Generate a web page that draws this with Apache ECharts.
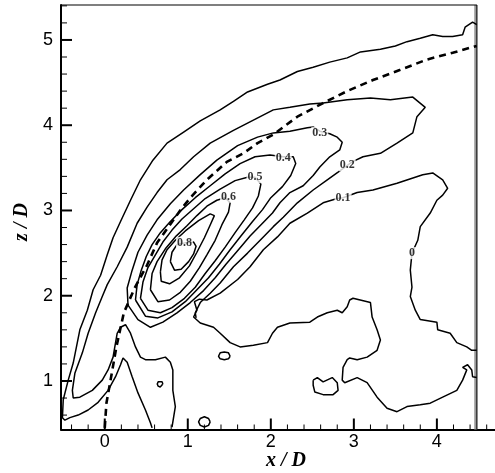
<!DOCTYPE html>
<html><head><meta charset="utf-8">
<script src="https://cdn.jsdelivr.net/npm/echarts@6/dist/echarts.min.js"></script>
<style>html,body{margin:0;padding:0;background:#fff}#c{width:495px;height:473px}</style>
</head><body><div id="c"></div>
<script>
// ---- axes ----
const xMin = -0.527, xMax = 4.70, yMin = 0.431, yMax = 5.41;
const xMajorTicks = [0, 1, 2, 3, 4];
const xMinorTicks = [-0.4, -0.2, 0.2, 0.4, 0.6, 0.8, 1.2, 1.4, 1.6, 1.8, 2.2, 2.4, 2.6, 2.8, 3.2, 3.4, 3.6, 3.8, 4.2, 4.4, 4.6];
const yMajorTicks = [1, 2, 3, 4, 5];
const yMinorTicks = [0.6, 0.8, 1.2, 1.4, 1.6, 1.8, 2.2, 2.4, 2.6, 2.8, 3.2, 3.4, 3.6, 3.8, 4.2, 4.4, 4.6, 4.8, 5.2, 5.4];

// ---- contour lines (x/D, z/D) ----
const c01outer = [[0.57,0.45],[0.55,0.51],[0.49,0.66],[0.40,0.86],[0.33,1.05],[0.27,1.22],[0.22,1.27],[0.19,1.19],[0.13,1.05],[0.04,0.89],[-0.08,0.75],[-0.20,0.66],[-0.32,0.60],[-0.42,0.57],[-0.48,0.54],[-0.51,0.57],[-0.50,0.78],[-0.44,1.01],[-0.38,1.21],[-0.30,1.60],[-0.21,1.83],[-0.14,2.07],[-0.05,2.24],[0.03,2.48],[0.10,2.68],[0.19,2.87],[0.31,3.12],[0.43,3.36],[0.58,3.59],[0.75,3.79],[0.95,3.92],[1.15,4.05],[1.39,4.18],[1.55,4.28],[1.72,4.39],[1.96,4.48],[2.11,4.53],[2.32,4.63],[2.51,4.68],[2.71,4.74],[2.92,4.79],[3.08,4.86],[3.32,4.89],[3.50,4.93],[3.64,4.98],[3.80,5.02],[3.95,5.06],[4.07,5.04],[4.19,5.04],[4.31,5.06],[4.34,5.15],[4.43,5.21],[4.48,5.18]];
const c01inner = [[4.48,1.36],[4.42,1.36],[4.36,1.40],[4.24,1.45],[4.16,1.56],[4.01,1.60],[4.00,1.69],[3.80,1.72],[3.74,1.83],[3.68,1.99],[3.70,2.10],[3.68,2.30],[3.70,2.50],[3.77,2.65],[3.80,2.81],[3.92,2.97],[4.00,3.12],[4.07,3.18],[4.13,3.26],[4.07,3.36],[3.95,3.44],[3.83,3.42],[3.52,3.32],[3.23,3.24],[3.04,3.21],[2.87,3.15],[2.80,3.14],[2.63,3.09],[2.44,2.97],[2.23,2.85],[2.08,2.69],[1.91,2.54],[1.75,2.34],[1.60,2.19],[1.39,2.03],[1.23,1.95],[1.14,1.96],[1.08,1.93],[1.11,1.83],[1.07,1.75],[1.15,1.68],[1.31,1.63],[1.39,1.56],[1.51,1.45],[1.63,1.40],[1.79,1.42],[1.96,1.45],[2.02,1.56],[2.08,1.63],[2.23,1.68],[2.47,1.69],[2.56,1.75],[2.68,1.80],[2.80,1.83],[2.86,1.80],[2.92,1.87],[2.95,1.95],[2.99,1.97],[3.20,1.92],[3.22,1.75],[3.28,1.60],[3.32,1.48],[3.28,1.36],[3.16,1.28],[3.04,1.25],[2.95,1.27],[2.92,1.25],[2.87,1.16],[2.86,1.01],[2.89,0.98],[3.04,1.04],[3.16,0.98],[3.28,0.81],[3.40,0.68],[3.52,0.64],[3.64,0.70],[3.80,0.72],[3.92,0.74],[4.07,0.81],[4.24,0.89],[4.31,1.01],[4.36,1.13],[4.31,1.16],[4.37,1.19],[4.42,1.13],[4.43,1.05],[4.48,1.04]];
const c02 = [[0.81,0.46],[0.85,0.70],[0.82,0.89],[0.82,1.13],[0.79,1.22],[0.73,1.28],[0.61,1.25],[0.49,1.25],[0.43,1.28],[0.37,1.40],[0.31,1.56],[0.25,1.66],[0.19,1.63],[0.15,1.56],[0.13,1.45],[0.10,1.28],[0.04,1.13],[-0.03,1.01],[-0.15,0.89],[-0.30,0.81],[-0.38,0.80],[-0.39,0.89],[-0.36,1.09],[-0.27,1.33],[-0.20,1.56],[-0.11,1.80],[-0.03,1.99],[0.03,2.13],[0.15,2.34],[0.27,2.57],[0.39,2.85],[0.51,3.04],[0.63,3.21],[0.75,3.36],[0.91,3.48],[1.07,3.63],[1.27,3.79],[1.55,3.94],[1.79,4.06],[2.03,4.18],[2.23,4.21],[2.47,4.25],[2.63,4.26],[2.92,4.30],[3.20,4.32],[3.44,4.30],[3.71,4.33],[3.86,4.21],[3.76,4.10],[3.71,3.91],[3.52,3.79],[3.32,3.67],[3.11,3.63],[2.98,3.57],[2.81,3.45],[2.68,3.36],[2.51,3.24],[2.32,3.09],[2.15,2.92],[2.03,2.81],[1.91,2.69],[1.72,2.50],[1.55,2.34],[1.39,2.15],[1.27,2.03],[1.15,1.92],[1.09,1.80],[1.10,1.74]];
const c03 = [[0.28,1.89],[0.27,2.09],[0.33,2.30],[0.40,2.51],[0.51,2.71],[0.63,2.89],[0.79,3.08],[0.95,3.24],[1.15,3.42],[1.35,3.59],[1.60,3.76],[1.84,3.86],[2.03,3.91],[2.23,3.93],[2.44,3.97],[2.51,3.98],[2.59,3.93],[2.71,3.90],[2.80,3.86],[2.86,3.80],[2.83,3.71],[2.71,3.63],[2.59,3.51],[2.51,3.41],[2.39,3.29],[2.23,3.21],[2.11,3.09],[2.02,2.97],[1.90,2.85],[1.75,2.70],[1.61,2.54],[1.46,2.37],[1.33,2.21],[1.19,2.06],[1.03,1.92],[0.87,1.80],[0.70,1.69],[0.55,1.63],[0.40,1.72],[0.28,1.89]];
const c04 = [[0.37,1.95],[0.39,2.13],[0.44,2.30],[0.50,2.46],[0.57,2.60],[0.67,2.74],[0.79,2.87],[0.93,3.01],[1.09,3.15],[1.27,3.29],[1.45,3.43],[1.63,3.55],[1.81,3.63],[1.99,3.65],[2.15,3.63],[2.27,3.63],[2.30,3.55],[2.24,3.41],[2.14,3.28],[2.00,3.15],[1.90,3.01],[1.78,2.87],[1.64,2.70],[1.51,2.54],[1.38,2.37],[1.25,2.21],[1.11,2.07],[0.97,1.93],[0.81,1.81],[0.64,1.74],[0.49,1.76],[0.37,1.95]];
const c05 = [[0.43,1.97],[0.46,2.16],[0.52,2.33],[0.61,2.48],[0.70,2.63],[0.81,2.77],[0.93,2.90],[1.07,3.02],[1.21,3.14],[1.39,3.25],[1.57,3.35],[1.72,3.39],[1.81,3.39],[1.88,3.31],[1.85,3.17],[1.78,3.03],[1.68,2.89],[1.57,2.74],[1.45,2.57],[1.33,2.41],[1.21,2.26],[1.09,2.10],[0.96,1.97],[0.81,1.86],[0.67,1.80],[0.52,1.83],[0.43,1.97]];
const c06 = [[0.55,2.07],[0.57,2.26],[0.63,2.40],[0.73,2.55],[0.85,2.69],[0.99,2.82],[1.11,2.94],[1.23,3.05],[1.35,3.12],[1.45,3.15],[1.51,3.09],[1.49,2.98],[1.41,2.83],[1.33,2.65],[1.23,2.48],[1.14,2.33],[1.03,2.17],[0.91,2.04],[0.78,1.95],[0.64,1.93],[0.55,2.07]];
const c07 = [[0.67,2.28],[0.69,2.42],[0.75,2.54],[0.85,2.65],[0.97,2.76],[1.13,2.88],[1.27,2.96],[1.32,2.94],[1.27,2.83],[1.20,2.68],[1.11,2.51],[1.02,2.35],[0.90,2.21],[0.78,2.14],[0.68,2.17],[0.67,2.28]];
const c08 = [[0.79,2.40],[0.81,2.51],[0.87,2.60],[0.97,2.62],[1.07,2.63],[1.10,2.58],[1.07,2.49],[1.01,2.40],[0.92,2.31],[0.84,2.30],[0.79,2.40]];
const islandA = [[0.70,0.965],[0.69,0.99],[0.668,1.0],[0.643,0.99],[0.632,0.965],[0.643,0.94],[0.668,0.93],[0.69,0.94],[0.70,0.965]];
const islandB = [[1.27,0.52],[1.25,0.56],[1.20,0.58],[1.15,0.56],[1.13,0.52],[1.15,0.48],[1.20,0.46],[1.25,0.48],[1.27,0.52]];
const islandC = [[1.51,1.29],[1.49,1.33],[1.44,1.34],[1.39,1.33],[1.37,1.29],[1.39,1.26],[1.44,1.25],[1.49,1.26],[1.51,1.29]];
const islandD = [[2.51,1.01],[2.56,1.04],[2.63,0.99],[2.74,1.04],[2.80,0.98],[2.81,0.89],[2.75,0.84],[2.63,0.84],[2.53,0.87],[2.51,0.95],[2.51,1.01]];

// ---- jet trajectory (dashed) ----
const trajectory = [[0.00,0.45],[0.02,0.74],[0.07,1.01],[0.14,1.40],[0.23,1.80],[0.36,2.09],[0.51,2.36],[0.63,2.62],[0.82,2.88],[0.93,3.03],[1.06,3.18],[1.23,3.36],[1.47,3.57],[1.67,3.67],[1.84,3.79],[2.03,3.89],[2.32,4.10],[2.63,4.26],[2.92,4.40],[3.23,4.53],[3.56,4.65],[3.88,4.77],[4.19,4.85],[4.48,4.93]];

// ---- contour labels ----
const labelPos = [[2.87,3.15],[2.92,3.53],[2.59,3.91],[2.15,3.62],[1.81,3.39],[1.49,3.16],[0.96,2.62],[3.70,2.50]];
const labelText = ['0.1','0.2','0.3','0.4','0.5','0.6','0.8','0'];

// ---- frame ----
const frameTop = [[-0.527,5.41],[4.482,5.41]];
const rightEdge = [[4.482,5.41],[4.482,0.431]];
const rightBand = [[4.468,5.41],[4.468,0.431]];

const contours = [c01outer, c01inner, c02, c03, c04, c05, c06, c07, c08, islandA, islandB, islandC, islandD];

function lineSeries(data, style, extra) {
  return Object.assign({
    type: 'line', data: data, showSymbol: false, symbol: 'none', silent: true,
    xAxisIndex: 0, yAxisIndex: 0, lineStyle: style, animation: false
  }, extra || {});
}

// tick marks drawn through the axis scale
function tickSeries(values, dir, len, width) {
  return {
    type: 'custom', silent: true, animation: false, clip: false, z: 6,
    xAxisIndex: 0, yAxisIndex: 0,
    data: values.map(v => dir === 'x' ? [v, yMin] : [xMin, v]),
    encode: {x: 0, y: 1},
    renderItem: function (params, api) {
      const p = api.coord([api.value(0), api.value(1)]);
      const shape = dir === 'x'
        ? {x1: p[0], y1: p[1], x2: p[0], y2: p[1] - len}
        : {x1: p[0], y1: p[1], x2: p[0] + len, y2: p[1]};
      return {type: 'line', shape: shape, style: {stroke: '#000', lineWidth: width}};
    }
  };
}

const series = [];
contours.forEach(c => series.push(lineSeries(c, {color: '#000', width: 1.5}, {z: 3})));
series.push(lineSeries(trajectory, {color: '#000', width: 2.6, type: [7, 5]}, {z: 4}));
series.push(lineSeries(rightBand, {color: '#999', width: 3}, {z: 2, clip: false}));
series.push(lineSeries(rightEdge, {color: '#000', width: 1}, {z: 2, clip: false}));
series.push(lineSeries(frameTop, {color: '#000', width: 1.2}, {z: 2, clip: false}));
series.push(tickSeries(xMajorTicks, 'x', 11, 2));
series.push(tickSeries(xMinorTicks, 'x', 5, 1));
series.push(tickSeries(yMajorTicks, 'y', 11, 2));
series.push(tickSeries(yMinorTicks, 'y', 6, 1));
series.push({
  type: 'scatter', silent: true, animation: false, z: 10,
  data: labelPos.map((p, i) => [p[0], p[1], labelText[i]]),
  symbolSize: 2, itemStyle: {color: 'rgba(255,255,255,0)'},
  label: {
    show: true, position: 'inside', formatter: p => p.value[2],
    color: '#000', fontFamily: 'Liberation Serif', fontWeight: 'bold', fontSize: 12,
    backgroundColor: '#fff', padding: [0, 1]
  }
});

const option = {
  animation: false,
  backgroundColor: '#fff',
  grid: {left: 61, right: 0, top: 5, bottom: 43.5, containLabel: false, outerBoundsMode: 'none'},
  xAxis: {
    type: 'value', min: xMin, max: xMax, position: 'bottom', splitLine: {show: false},
    axisLine: {show: true, onZero: false, lineStyle: {color: '#000', width: 2}},
    axisTick: {show: false},
    axisLabel: {customValues: xMajorTicks, color: '#000', fontSize: 18, fontFamily: 'Liberation Sans', margin: 4}
  },
  yAxis: {
    type: 'value', min: yMin, max: yMax, position: 'left', splitLine: {show: false},
    axisLine: {show: true, onZero: false, lineStyle: {color: '#000', width: 2}},
    axisTick: {show: false},
    axisLabel: {customValues: yMajorTicks, color: '#000', fontSize: 18, fontFamily: 'Liberation Sans', margin: 8}
  },
  graphic: [
    {type: 'text', x: 286, y: 461, style: {text: 'x / D', font: 'italic bold 20px "Liberation Serif"', fill: '#000', align: 'center', verticalAlign: 'middle'}},
    {type: 'text', x: 22, y: 222, rotation: Math.PI / 2, style: {text: 'z / D', font: 'italic bold 20px "Liberation Serif"', fill: '#000', align: 'center', verticalAlign: 'middle'}}
  ],
  series: series
};

const chart = echarts.init(document.getElementById('c'), null, {renderer: 'canvas'});
chart.setOption(option);
</script>
</body></html>
